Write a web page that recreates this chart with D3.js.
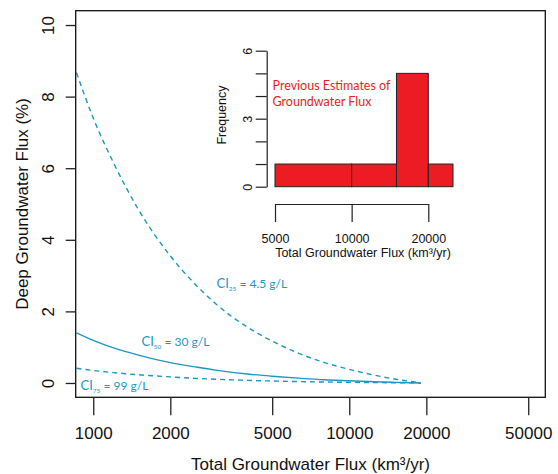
<!DOCTYPE html>
<html>
<head>
<meta charset="utf-8">
<script src="https://cdn.jsdelivr.net/npm/d3@7"></script>
<style>
  body { margin: 0; background: #fff; }
  svg { display: block; }
  .axis text { font-family: "Liberation Sans", Arial, sans-serif; fill: #111; }
  .axis line, .axis path { stroke: #222; }
  .note { font-family: Lato, "Open Sans", sans-serif; }
</style>
</head>
<body>
<div id="chart"></div>
<script>
// main panel: deep flux (%) vs total groundwater flux (km3/yr)
const flux = [860, 1000, 1200, 1500, 2000, 2500, 3000, 4000, 5000, 6500, 8000, 10000, 12500, 15000, 17500, 19000];
const ci25 = [8.67, 7.40, 6.15, 4.85, 3.55, 2.76, 2.22, 1.56, 1.17, 0.80, 0.57, 0.38, 0.22, 0.11, 0.04, 0];
const ci50 = [1.40, 1.19, 0.98, 0.78, 0.57, 0.45, 0.36, 0.25, 0.19, 0.13, 0.09, 0.062, 0.036, 0.018, 0.006, 0];
const ci75 = [0.41, 0.35, 0.29, 0.23, 0.17, 0.13, 0.105, 0.074, 0.055, 0.038, 0.027, 0.018, 0.011, 0.006, 0.002, 0];
const xTicks = [1000, 2000, 5000, 10000, 20000, 50000];
const yTicks = [0, 2, 4, 6, 8, 10];

// inset histogram of previous estimates
const histBreaks = [5000, 10000, 15000, 20000, 25000];
const histCounts = [1, 1, 5, 1];
const histXTicks = [5000, 10000, 20000];
const histYTicks = [0, 1, 2, 3, 4, 5, 6];
const histYLabels = [0, 3, 6];

const blue = '#1a98c4';
const red = '#ed1c24';

const svg = d3.select('#chart')
  .append('svg')
  .attr('width', 558)
  .attr('height', 474);

const x = d3.scaleLog().domain([854, 58300]).range([75.7, 545.3]);
const y = d3.scaleLinear().domain([-0.4, 10.4]).range([397.3, 10.7]);

svg.append('defs').append('clipPath').attr('id', 'plot-clip')
  .append('rect')
  .attr('x', x.range()[0]).attr('y', y.range()[1])
  .attr('width', x.range()[1] - x.range()[0])
  .attr('height', y.range()[0] - y.range()[1]);

// curves
const line = d3.line()
  .x(d => x(d[0]))
  .y(d => y(d[1]))
  .curve(d3.curveMonotoneX);

const curves = [
  { vals: ci25, dash: '5,4' },
  { vals: ci50, dash: null },
  { vals: ci75, dash: '5,4' }
];

svg.append('g')
  .attr('clip-path', 'url(#plot-clip)')
  .selectAll('path')
  .data(curves)
  .enter().append('path')
  .attr('d', c => line(flux.map((f, i) => [f, c.vals[i]])))
  .attr('fill', 'none')
  .attr('stroke', blue)
  .attr('stroke-width', 1.4)
  .attr('stroke-dasharray', c => c.dash);

// box
svg.append('rect')
  .attr('x', x.range()[0]).attr('y', y.range()[1])
  .attr('width', x.range()[1] - x.range()[0])
  .attr('height', y.range()[0] - y.range()[1])
  .attr('fill', 'none')
  .attr('stroke', '#111')
  .attr('stroke-width', 1.3);

// x axis
const xAxis = svg.append('g')
  .attr('class', 'axis')
  .attr('transform', `translate(0,${y.range()[0]})`)
  .call(d3.axisBottom(x).tickValues(xTicks).tickFormat(d3.format('d')).tickSize(18).tickPadding(12));
xAxis.select('.domain').remove();
xAxis.selectAll('line').attr('stroke-width', 1.3);
xAxis.selectAll('text').attr('font-size', 17);

// y axis
const yAxis = svg.append('g')
  .attr('class', 'axis')
  .attr('transform', `translate(${x.range()[0]},0)`)
  .call(d3.axisLeft(y).tickValues(yTicks).tickSize(10));
yAxis.select('.domain').remove();
yAxis.selectAll('line').attr('stroke-width', 1.3);
yAxis.selectAll('text')
  .attr('font-size', 17)
  .attr('text-anchor', 'middle')
  .attr('x', 0)
  .attr('y', -28)
  .attr('dy', '0.35em')
  .attr('transform', 'rotate(-90)');

svg.append('text')
  .attr('x', (x.range()[0] + x.range()[1]) / 2)
  .attr('y', 470)
  .attr('text-anchor', 'middle')
  .attr('font-size', 17)
  .attr('fill', '#111')
  .style('font-family', '"Liberation Sans", Arial, sans-serif')
  .text('Total Groundwater Flux (km³/yr)');

svg.append('text')
  .attr('transform', `translate(28,${(y.range()[0] + y.range()[1]) / 2}) rotate(-90)`)
  .attr('text-anchor', 'middle')
  .attr('font-size', 17)
  .attr('fill', '#111')
  .style('font-family', '"Liberation Sans", Arial, sans-serif')
  .text('Deep Groundwater Flux (%)');

// curve labels
const ciLabels = [
  { sub: '25', rest: ' = 4.5 g/L', px: 216.5, py: 287.5 },
  { sub: '50', rest: ' = 30 g/L', px: 141.5, py: 345.5 },
  { sub: '75', rest: ' = 99 g/L', px: 80.5, py: 389.5 }
];
ciLabels.forEach(l => {
  const t = svg.append('text')
    .attr('class', 'note')
    .attr('x', l.px).attr('y', l.py)
    .attr('fill', blue)
    .attr('font-size', 12);
  t.append('tspan').attr('font-size', 13).text('CI');
  t.append('tspan').attr('font-size', 6.5).attr('dy', 3).text(l.sub);
  t.append('tspan').attr('dy', -3).text(l.rest);
});

// inset histogram
const hx = d3.scaleLog().domain([5000, 20000]).range([275, 428.3]);
const hy = d3.scaleLinear().domain([0, 6]).range([186.7, 50.7]);

const bins = histCounts.map((c, i) => ({ x0: histBreaks[i], x1: histBreaks[i + 1], n: c }));

svg.append('g')
  .selectAll('rect')
  .data(bins)
  .enter().append('rect')
  .attr('x', d => hx(d.x0))
  .attr('y', d => hy(d.n))
  .attr('width', d => hx(d.x1) - hx(d.x0))
  .attr('height', d => hy(0) - hy(d.n))
  .attr('fill', red)
  .attr('stroke', '#222')
  .attr('stroke-width', 1);

// inset x axis sits below the bars, ticks pointing down
const hxAxis = svg.append('g')
  .attr('class', 'axis')
  .attr('transform', 'translate(0,204)')
  .call(d3.axisBottom(hx).tickValues(histXTicks).tickFormat(d3.format('d')).tickSizeInner(18).tickSizeOuter(0).tickPadding(4));
hxAxis.selectAll('line, path').attr('stroke-width', 1.2);
hxAxis.selectAll('text').attr('font-size', 12.5).attr('y', 30).attr('dy', '0.71em');

const hyAxis = svg.append('g')
  .attr('class', 'axis')
  .attr('transform', 'translate(266.7,0)')
  .call(d3.axisLeft(hy).tickValues(histYTicks).tickSizeInner(11).tickSizeOuter(0)
    .tickFormat(d => histYLabels.includes(d) ? d : ''));
hyAxis.selectAll('line, path').attr('stroke-width', 1.2);
hyAxis.selectAll('text')
  .attr('font-size', 12.5)
  .attr('text-anchor', 'middle')
  .attr('x', 0)
  .attr('y', -19)
  .attr('dy', '0.35em')
  .attr('transform', 'rotate(-90)');

svg.append('text')
  .attr('x', 363).attr('y', 257)
  .attr('text-anchor', 'middle')
  .attr('font-size', 12.5)
  .attr('fill', '#111')
  .style('font-family', '"Liberation Sans", Arial, sans-serif')
  .text('Total Groundwater Flux (km³/yr)');

svg.append('text')
  .attr('transform', 'translate(226,115) rotate(-90)')
  .attr('text-anchor', 'middle')
  .attr('font-size', 12.5)
  .attr('fill', '#111')
  .style('font-family', '"Liberation Sans", Arial, sans-serif')
  .text('Frequency');

const note = svg.append('text')
  .attr('class', 'note')
  .attr('fill', red)
  .attr('font-size', 12.5);
note.append('tspan').attr('x', 272.5).attr('y', 90).text('Previous Estimates of');
note.append('tspan').attr('x', 272.5).attr('y', 106).text('Groundwater Flux');
</script>
</body>
</html>
